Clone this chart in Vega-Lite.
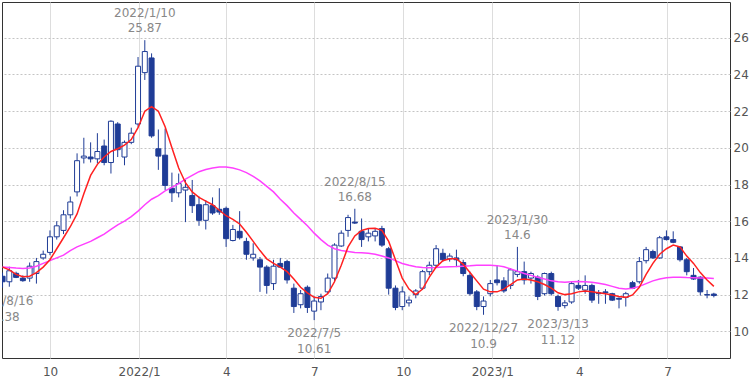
{
"$schema": "https://vega.github.io/schema/vega-lite/v6.json",
"width": 728, "height": 356,
"autosize": {"type": "none"},
"padding": {"left": 2, "top": 2, "right": 20, "bottom": 24},
"background": "white",
"config": {"view": {"stroke": "#333", "strokeWidth": 1}, "font": "DejaVu Sans"},
"datasets": {
"ohlc": [
{"d":"2021-08-16","o":13.0,"h":13.2,"l":12.38,"c":12.7,"m13":13.5,"m26":13.5},
{"d":"2021-08-23","o":12.7,"h":13.52,"l":12.43,"c":13.3,"m13":13.35,"m26":13.48},
{"d":"2021-08-30","o":13.16,"h":13.25,"l":12.9,"c":12.94,"m13":13.1,"m26":13.45},
{"d":"2021-09-06","o":12.9,"h":13.05,"l":12.7,"c":12.76,"m13":12.98,"m26":13.43},
{"d":"2021-09-13","o":12.9,"h":13.75,"l":12.7,"c":13.55,"m13":13.0,"m26":13.45},
{"d":"2021-09-20","o":13.15,"h":14.0,"l":12.6,"c":13.8,"m13":13.2,"m26":13.55},
{"d":"2021-09-27","o":14.0,"h":14.4,"l":13.9,"c":14.2,"m13":13.5,"m26":13.7},
{"d":"2021-10-04","o":14.3,"h":15.5,"l":14.15,"c":15.15,"m13":13.9,"m26":13.85},
{"d":"2021-10-11","o":15.15,"h":16.0,"l":15.0,"c":15.75,"m13":14.5,"m26":14.0},
{"d":"2021-10-18","o":15.5,"h":16.6,"l":15.3,"c":16.35,"m13":15.1,"m26":14.15},
{"d":"2021-10-25","o":16.35,"h":17.35,"l":16.15,"c":17.05,"m13":15.7,"m26":14.4},
{"d":"2021-11-01","o":17.6,"h":19.7,"l":17.35,"c":19.3,"m13":16.4,"m26":14.6},
{"d":"2021-11-08","o":19.45,"h":20.55,"l":19.15,"c":19.55,"m13":17.5,"m26":14.75},
{"d":"2021-11-15","o":19.5,"h":20.3,"l":19.2,"c":19.4,"m13":18.5,"m26":14.9},
{"d":"2021-11-22","o":19.4,"h":20.8,"l":19.15,"c":19.8,"m13":19.1,"m26":15.1},
{"d":"2021-11-29","o":20.1,"h":20.45,"l":19.05,"c":19.2,"m13":19.5,"m26":15.3},
{"d":"2021-12-06","o":19.2,"h":21.5,"l":18.6,"c":21.45,"m13":19.8,"m26":15.55},
{"d":"2021-12-13","o":21.3,"h":21.4,"l":19.5,"c":19.9,"m13":19.95,"m26":15.8},
{"d":"2021-12-20","o":19.5,"h":20.4,"l":19.05,"c":20.3,"m13":20.15,"m26":16.0},
{"d":"2021-12-27","o":20.3,"h":21.1,"l":20.2,"c":20.8,"m13":20.45,"m26":16.25},
{"d":"2022-01-03","o":21.3,"h":24.95,"l":21.15,"c":24.45,"m13":21.1,"m26":16.55},
{"d":"2022-01-10","o":24.1,"h":25.87,"l":23.7,"c":25.25,"m13":22.0,"m26":16.9},
{"d":"2022-01-17","o":24.9,"h":25.15,"l":20.55,"c":20.65,"m13":22.25,"m26":17.2},
{"d":"2022-01-24","o":19.95,"h":21.0,"l":18.8,"c":19.55,"m13":22.0,"m26":17.4},
{"d":"2022-01-31","o":19.6,"h":21.05,"l":17.7,"c":17.95,"m13":21.15,"m26":17.65},
{"d":"2022-02-07","o":17.8,"h":18.65,"l":17.05,"c":17.55,"m13":20.0,"m26":17.85},
{"d":"2022-02-14","o":17.55,"h":18.6,"l":17.3,"c":18.05,"m13":18.9,"m26":18.05},
{"d":"2022-02-21","o":17.7,"h":18.25,"l":15.95,"c":17.85,"m13":18.1,"m26":18.3},
{"d":"2022-02-28","o":17.4,"h":18.25,"l":16.45,"c":16.85,"m13":17.6,"m26":18.5},
{"d":"2022-03-07","o":16.9,"h":17.35,"l":15.75,"c":16.05,"m13":17.3,"m26":18.7},
{"d":"2022-03-14","o":16.05,"h":17.15,"l":15.55,"c":16.9,"m13":17.1,"m26":18.82},
{"d":"2022-03-21","o":16.85,"h":17.3,"l":16.35,"c":16.45,"m13":16.9,"m26":18.9},
{"d":"2022-03-28","o":16.65,"h":17.8,"l":16.35,"c":16.5,"m13":16.6,"m26":18.95},
{"d":"2022-04-04","o":16.7,"h":16.8,"l":14.6,"c":15.05,"m13":16.3,"m26":18.95},
{"d":"2022-04-11","o":14.95,"h":15.8,"l":14.9,"c":15.55,"m13":16.1,"m26":18.9},
{"d":"2022-04-18","o":15.45,"h":16.55,"l":15.0,"c":15.1,"m13":15.85,"m26":18.8},
{"d":"2022-04-25","o":14.9,"h":15.1,"l":13.9,"c":14.2,"m13":15.4,"m26":18.65},
{"d":"2022-05-02","o":14.0,"h":14.8,"l":13.85,"c":14.2,"m13":14.9,"m26":18.45},
{"d":"2022-05-09","o":13.9,"h":14.05,"l":12.15,"c":13.5,"m13":14.4,"m26":18.2},
{"d":"2022-05-16","o":13.5,"h":13.6,"l":12.05,"c":12.5,"m13":13.95,"m26":17.9},
{"d":"2022-05-23","o":12.6,"h":13.9,"l":12.25,"c":13.55,"m13":13.7,"m26":17.6},
{"d":"2022-05-30","o":13.7,"h":14.0,"l":13.45,"c":13.5,"m13":13.5,"m26":17.2},
{"d":"2022-06-06","o":13.8,"h":13.9,"l":12.6,"c":12.8,"m13":13.25,"m26":16.85},
{"d":"2022-06-13","o":12.35,"h":12.6,"l":11.0,"c":11.35,"m13":12.85,"m26":16.45},
{"d":"2022-06-20","o":11.45,"h":12.25,"l":11.25,"c":12.05,"m13":12.4,"m26":16.1},
{"d":"2022-06-27","o":12.4,"h":12.5,"l":11.0,"c":11.3,"m13":12.1,"m26":15.75},
{"d":"2022-07-04","o":11.1,"h":11.9,"l":10.61,"c":11.65,"m13":11.85,"m26":15.35},
{"d":"2022-07-11","o":11.6,"h":12.05,"l":11.15,"c":11.9,"m13":11.8,"m26":15.0},
{"d":"2022-07-18","o":12.15,"h":13.15,"l":12.05,"c":12.9,"m13":12.05,"m26":14.7},
{"d":"2022-07-25","o":12.9,"h":14.8,"l":12.7,"c":14.7,"m13":12.7,"m26":14.5},
{"d":"2022-08-01","o":14.65,"h":15.5,"l":14.6,"c":15.35,"m13":13.6,"m26":14.4},
{"d":"2022-08-08","o":15.5,"h":16.35,"l":15.15,"c":16.2,"m13":14.6,"m26":14.35},
{"d":"2022-08-15","o":15.95,"h":16.68,"l":15.85,"c":15.9,"m13":15.2,"m26":14.3},
{"d":"2022-08-22","o":15.45,"h":16.15,"l":14.6,"c":15.0,"m13":15.5,"m26":14.28},
{"d":"2022-08-29","o":15.15,"h":15.6,"l":14.9,"c":15.35,"m13":15.6,"m26":14.25},
{"d":"2022-09-05","o":15.2,"h":15.6,"l":14.9,"c":15.45,"m13":15.62,"m26":14.2},
{"d":"2022-09-12","o":15.6,"h":15.75,"l":14.6,"c":14.7,"m13":15.5,"m26":14.1},
{"d":"2022-09-19","o":14.5,"h":14.6,"l":12.0,"c":12.35,"m13":14.9,"m26":14.0},
{"d":"2022-09-26","o":12.35,"h":12.5,"l":11.15,"c":11.3,"m13":13.9,"m26":13.85},
{"d":"2022-10-03","o":11.35,"h":12.45,"l":11.15,"c":12.15,"m13":12.9,"m26":13.7},
{"d":"2022-10-10","o":11.55,"h":11.9,"l":11.35,"c":11.7,"m13":12.3,"m26":13.6},
{"d":"2022-10-17","o":12.0,"h":12.3,"l":11.8,"c":12.2,"m13":12.0,"m26":13.52},
{"d":"2022-10-24","o":12.35,"h":13.35,"l":12.25,"c":13.25,"m13":12.3,"m26":13.48},
{"d":"2022-10-31","o":13.25,"h":13.8,"l":13.05,"c":13.6,"m13":12.95,"m26":13.47},
{"d":"2022-11-07","o":13.6,"h":14.7,"l":13.45,"c":14.5,"m13":13.5,"m26":13.48},
{"d":"2022-11-14","o":14.25,"h":14.5,"l":13.8,"c":13.9,"m13":13.85,"m26":13.5},
{"d":"2022-11-21","o":13.95,"h":14.25,"l":13.8,"c":14.1,"m13":13.95,"m26":13.52},
{"d":"2022-11-28","o":14.0,"h":14.45,"l":13.5,"c":13.9,"m13":13.95,"m26":13.53},
{"d":"2022-12-05","o":13.75,"h":13.9,"l":13.0,"c":13.15,"m13":13.65,"m26":13.55},
{"d":"2022-12-12","o":13.05,"h":13.25,"l":11.95,"c":12.05,"m13":13.2,"m26":13.57},
{"d":"2022-12-19","o":12.15,"h":12.25,"l":11.15,"c":11.35,"m13":12.75,"m26":13.6},
{"d":"2022-12-26","o":11.35,"h":11.9,"l":10.9,"c":11.65,"m13":12.3,"m26":13.6},
{"d":"2023-01-02","o":12.05,"h":12.8,"l":11.9,"c":12.6,"m13":12.15,"m26":13.6},
{"d":"2023-01-09","o":12.8,"h":13.6,"l":12.5,"c":12.65,"m13":12.15,"m26":13.58},
{"d":"2023-01-16","o":12.75,"h":12.95,"l":12.1,"c":12.2,"m13":12.3,"m26":13.52},
{"d":"2023-01-23","o":12.5,"h":13.45,"l":12.3,"c":13.35,"m13":12.55,"m26":13.4},
{"d":"2023-01-30","o":13.1,"h":14.6,"l":12.95,"c":13.25,"m13":12.8,"m26":13.28},
{"d":"2023-02-06","o":13.25,"h":13.8,"l":12.55,"c":12.8,"m13":12.85,"m26":13.15},
{"d":"2023-02-13","o":12.9,"h":13.25,"l":12.6,"c":13.15,"m13":12.8,"m26":13.05},
{"d":"2023-02-20","o":12.95,"h":13.05,"l":11.7,"c":11.9,"m13":12.7,"m26":12.95},
{"d":"2023-02-27","o":12.05,"h":13.2,"l":11.95,"c":13.15,"m13":12.55,"m26":12.85},
{"d":"2023-03-06","o":13.15,"h":13.25,"l":11.95,"c":12.05,"m13":12.35,"m26":12.75},
{"d":"2023-03-13","o":11.9,"h":12.0,"l":11.12,"c":11.35,"m13":12.1,"m26":12.7},
{"d":"2023-03-20","o":11.4,"h":11.7,"l":11.25,"c":11.55,"m13":12.0,"m26":12.68},
{"d":"2023-03-27","o":11.6,"h":12.7,"l":11.5,"c":12.6,"m13":12.05,"m26":12.7},
{"d":"2023-04-03","o":12.5,"h":12.8,"l":12.25,"c":12.35,"m13":12.15,"m26":12.72},
{"d":"2023-04-10","o":12.25,"h":13.05,"l":12.05,"c":12.5,"m13":12.2,"m26":12.7},
{"d":"2023-04-17","o":12.5,"h":12.6,"l":11.55,"c":11.7,"m13":12.15,"m26":12.68},
{"d":"2023-04-24","o":12.1,"h":12.25,"l":11.5,"c":12.05,"m13":12.1,"m26":12.62},
{"d":"2023-05-01","o":12.15,"h":12.3,"l":11.5,"c":12.1,"m13":12.05,"m26":12.55},
{"d":"2023-05-08","o":12.05,"h":12.1,"l":11.65,"c":11.7,"m13":11.98,"m26":12.45},
{"d":"2023-05-15","o":11.8,"h":11.85,"l":11.25,"c":11.75,"m13":11.9,"m26":12.35},
{"d":"2023-05-22","o":11.85,"h":12.15,"l":11.35,"c":12.05,"m13":11.85,"m26":12.3},
{"d":"2023-05-29","o":12.65,"h":12.75,"l":12.3,"c":12.35,"m13":11.98,"m26":12.35},
{"d":"2023-06-05","o":12.7,"h":14.05,"l":12.6,"c":13.8,"m13":12.4,"m26":12.45},
{"d":"2023-06-12","o":13.85,"h":14.6,"l":13.7,"c":14.45,"m13":13.1,"m26":12.6},
{"d":"2023-06-19","o":14.35,"h":14.45,"l":13.95,"c":14.0,"m13":13.7,"m26":12.75},
{"d":"2023-06-26","o":14.0,"h":15.2,"l":13.95,"c":15.1,"m13":14.2,"m26":12.85},
{"d":"2023-07-03","o":15.15,"h":15.5,"l":14.95,"c":15.0,"m13":14.5,"m26":12.92},
{"d":"2023-07-10","o":15.0,"h":15.45,"l":14.8,"c":14.85,"m13":14.7,"m26":12.95},
{"d":"2023-07-17","o":14.6,"h":14.65,"l":13.8,"c":13.9,"m13":14.6,"m26":12.95},
{"d":"2023-07-24","o":13.9,"h":14.0,"l":13.05,"c":13.25,"m13":14.1,"m26":12.93},
{"d":"2023-07-31","o":13.05,"h":13.45,"l":12.8,"c":12.85,"m13":13.7,"m26":12.92},
{"d":"2023-08-07","o":12.95,"h":13.0,"l":11.95,"c":12.15,"m13":13.2,"m26":12.9},
{"d":"2023-08-14","o":12.0,"h":12.25,"l":11.8,"c":11.98,"m13":12.8,"m26":12.9},
{"d":"2023-08-21","o":12.03,"h":12.1,"l":11.85,"c":11.95,"m13":12.45,"m26":12.88}
],
"hi": [
{"d":"2022-01-10","t":"2022/1/10","v":"25.87","p":25.87},
{"d":"2022-08-15","t":"2022/8/15","v":"16.68","p":16.68},
{"d":"2023-01-30","t":"2023/1/30","v":"14.6","p":14.6}
],
"lo": [
{"d":"2021-08-16","t":"2021/8/16","v":"12.38","p":12.38},
{"d":"2022-07-04","t":"2022/7/5","v":"10.61","p":10.61},
{"d":"2022-12-26","t":"2022/12/27","v":"10.9","p":10.9},
{"d":"2023-03-13","t":"2023/3/13","v":"11.12","p":11.12}
]
},
"encoding": {
"x": {"field": "d", "type": "temporal", "title": null,
 "scale": {"type": "utc", "domain": [{"year":2021,"month":8,"date":17,"hours":12,"utc":true},{"year":2023,"month":8,"date":29,"hours":10,"utc":true}]},
 "axis": {"values": [
   {"year":2021,"month":10,"date":1,"utc":true},{"year":2022,"month":1,"date":1,"utc":true},{"year":2022,"month":4,"date":1,"utc":true},{"year":2022,"month":7,"date":1,"utc":true},{"year":2022,"month":10,"date":1,"utc":true},{"year":2023,"month":1,"date":1,"utc":true},{"year":2023,"month":4,"date":1,"utc":true},{"year":2023,"month":7,"date":1,"utc":true}],
  "labelExpr": "utcFormat(datum.value, '%m') == '01' ? utcFormat(datum.value, '%Y/1') : utcFormat(datum.value, '%-m')",
  "grid": true, "gridColor": "#dddddd", "gridWidth": 1, "domain": false, "ticks": false,
  "labelPadding": 8, "labelFontSize": 12, "labelColor": "#555555", "labelFont": "DejaVu Sans"}}
},
"layer": [
{"data": {"name": "ohlc"}, "mark": {"type": "rule", "color": "#1f3c96", "strokeWidth": 1, "xOffset": -3, "clip": true},
 "encoding": {"y": {"field": "l", "type": "quantitative", "title": null,
   "scale": {"domain": [8.545, 27.95], "nice": false, "zero": false},
   "axis": {"orient": "right", "values": [10,12,14,16,18,20,22,24,26], "grid": true, "gridColor": "#c4c4c4", "gridDash": [2,2], "gridWidth": 1, "domain": false, "ticks": false, "labelPadding": 3, "labelFontSize": 12, "labelColor": "#555555", "labelFont": "DejaVu Sans"}},
  "y2": {"field": "h"}}},
{"data": {"name": "ohlc"}, "mark": {"type": "bar", "width": 5, "stroke": "#1f3c96", "strokeWidth": 1, "xOffset": -3, "clip": true},
 "encoding": {"y": {"field": "o", "type": "quantitative", "title": null, "scale": {"domain": [8.545, 27.95], "nice": false, "zero": false}},
  "y2": {"field": "c"},
  "fill": {"condition": {"test": "datum.c >= datum.o", "value": "white"}, "value": "#1f3c96"}}},
{"data": {"name": "ohlc"}, "mark": {"type": "line", "color": "#ff40ff", "strokeWidth": 1.5, "xOffset": -3, "clip": true},
 "encoding": {"y": {"field": "m26", "type": "quantitative", "title": null, "scale": {"domain": [8.545, 27.95], "nice": false, "zero": false}}}},
{"data": {"name": "ohlc"}, "mark": {"type": "line", "color": "#ff2020", "strokeWidth": 1.5, "xOffset": -3, "clip": true},
 "encoding": {"y": {"field": "m13", "type": "quantitative", "title": null, "scale": {"domain": [8.545, 27.95], "nice": false, "zero": false}}}},
{"data": {"name": "hi"}, "mark": {"type": "text", "color": "#888888", "fontSize": 12, "font": "DejaVu Sans", "dy": -27, "xOffset": -3, "clip": true},
 "encoding": {"y": {"field": "p", "type": "quantitative", "title": null, "scale": {"domain": [8.545, 27.95], "nice": false, "zero": false}}, "text": {"field": "t"}}},
{"data": {"name": "hi"}, "mark": {"type": "text", "color": "#888888", "fontSize": 12, "font": "DejaVu Sans", "dy": -12, "xOffset": -3, "clip": true},
 "encoding": {"y": {"field": "p", "type": "quantitative", "title": null, "scale": {"domain": [8.545, 27.95], "nice": false, "zero": false}}, "text": {"field": "v"}}},
{"data": {"name": "lo"}, "mark": {"type": "text", "color": "#888888", "fontSize": 12, "font": "DejaVu Sans", "dy": 13, "xOffset": -3, "clip": true},
 "encoding": {"y": {"field": "p", "type": "quantitative", "title": null, "scale": {"domain": [8.545, 27.95], "nice": false, "zero": false}}, "text": {"field": "t"}}},
{"data": {"name": "lo"}, "mark": {"type": "text", "color": "#888888", "fontSize": 12, "font": "DejaVu Sans", "dy": 29, "xOffset": -3, "clip": true},
 "encoding": {"y": {"field": "p", "type": "quantitative", "title": null, "scale": {"domain": [8.545, 27.95], "nice": false, "zero": false}}, "text": {"field": "v"}}}
]
}
